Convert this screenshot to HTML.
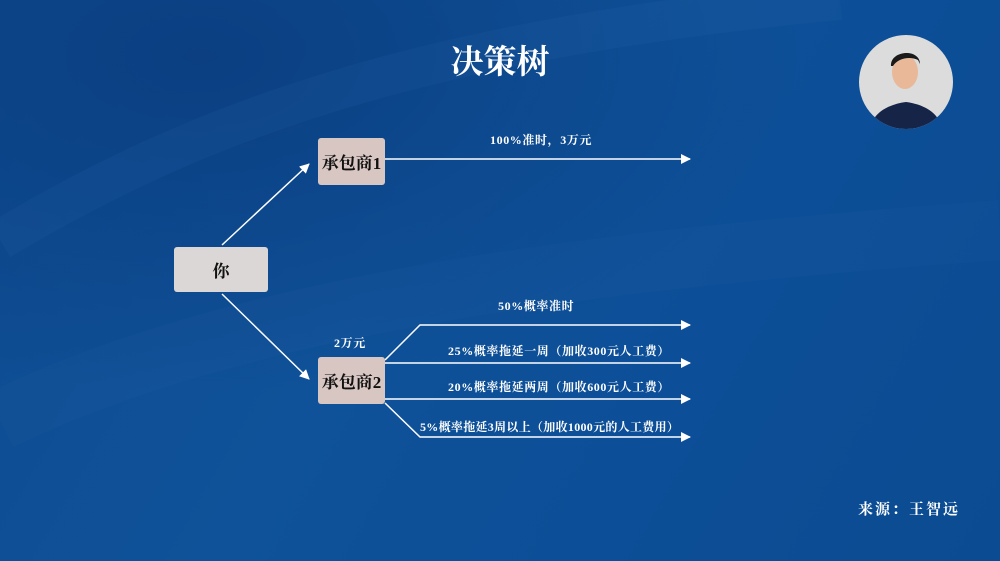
<!DOCTYPE html>
<html><head><meta charset="utf-8"><style>
*{margin:0;padding:0}
body{width:1000px;height:561px;overflow:hidden;position:relative;font-family:"Liberation Serif","Noto Serif CJK SC",serif;
background:linear-gradient(120deg,#0e4a8f 0%,#0f5299 40%,#0c4e97 70%,#0b4b91 100%);}
.t{position:absolute;color:#fff;font-weight:bold;white-space:nowrap}
.s{font-size:12px;letter-spacing:0.6px}
.box{position:absolute;border-radius:3px;display:flex;align-items:center;justify-content:center;font-weight:bold;font-size:17px;color:#111}
</style></head><body>
<svg width="1000" height="561" style="position:absolute;left:0;top:0">
<defs>
<radialGradient id="g1" cx="0.2" cy="0.1" r="0.6"><stop offset="0" stop-color="#0b3f82"/><stop offset="1" stop-color="#0b3f82" stop-opacity="0"/></radialGradient>
<marker id="a" markerWidth="10" markerHeight="10" refX="9" refY="5" orient="auto" markerUnits="userSpaceOnUse"><path d="M0,0 L10,5 L0,10 Z" fill="#fff"/></marker>
</defs>
<rect width="1000" height="561" fill="url(#g1)"/>
<path d="M0,240 C200,120 420,40 840,0" stroke="#3c78bb" stroke-opacity="0.1" stroke-width="40" fill="none"/>
<path d="M0,420 C250,300 600,260 1000,230" stroke="#3c78bb" stroke-opacity="0.06" stroke-width="60" fill="none"/>
<g stroke="#fff" stroke-width="1.5" fill="none">
<line x1="222" y1="245" x2="309" y2="164" marker-end="url(#a)"/>
<line x1="222" y1="294" x2="309" y2="379" marker-end="url(#a)"/>
<line x1="385" y1="159" x2="690" y2="159" marker-end="url(#a)"/>
<polyline points="385,360 420,325 690,325" marker-end="url(#a)"/>
<line x1="385" y1="363" x2="690" y2="363" marker-end="url(#a)"/>
<line x1="385" y1="399" x2="690" y2="399" marker-end="url(#a)"/>
<polyline points="385,403 420,437 690,437" marker-end="url(#a)"/>
</g>
<circle cx="906" cy="82" r="47" fill="#dcdcdc"/>
<clipPath id="c"><circle cx="906" cy="82" r="47"/></clipPath>
<g clip-path="url(#c)">
<path d="M870,130 C872,112 890,104 906,102 C922,104 940,112 942,130 Z" fill="#152447"/>
<ellipse cx="905" cy="72" rx="13" ry="17" fill="#e8b898"/>
<path d="M891,66 C890,50 920,48 920,64 L918,60 C910,56 898,58 893,66 Z" fill="#1a1a1a"/>
</g>
</svg>
<div class="t" style="left:0;width:1000px;text-align:center;top:36px;font-size:33px">决策树</div>
<div class="box" style="left:174px;top:247px;width:94px;height:45px;background:#dcd7d7">你</div>
<div class="box" style="left:318px;top:138px;width:67px;height:47px;background:#d8c6c3">承包商1</div>
<div class="box" style="left:318px;top:357px;width:67px;height:47px;background:#d8c6c3">承包商2</div>
<div class="t s" style="left:490px;top:131px">100%准时，3万元</div>
<div class="t s" style="left:334px;top:334px">2万元</div>
<div class="t s" style="left:498px;top:297px">50%概率准时</div>
<div class="t s" style="left:448px;top:342px">25%概率拖延一周（加收300元人工费）</div>
<div class="t s" style="left:448px;top:378px">20%概率拖延两周（加收600元人工费）</div>
<div class="t s" style="left:420px;top:418px;letter-spacing:0.3px">5%概率拖延3周以上（加收1000元的人工费用）</div>
<div class="t" style="left:858px;top:498px;font-size:15px;letter-spacing:2px">来源：王智远</div>
</body></html>
